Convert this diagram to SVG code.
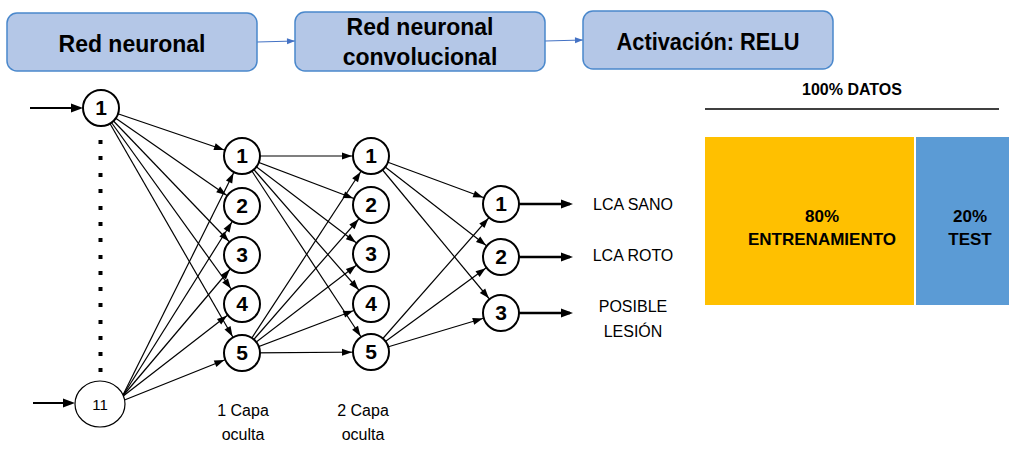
<svg xmlns="http://www.w3.org/2000/svg" width="1027" height="449" viewBox="0 0 1027 449">
<style>
.box{fill:#B4C7E7;stroke:#4A88CC;stroke-width:1.5}
.bt{font-family:"Liberation Sans",Arial,sans-serif;font-weight:bold;font-size:23px;fill:#000;text-anchor:middle}
.n{fill:#fff;stroke:#000;stroke-width:2}
.nt{font-family:"Liberation Sans",Arial,sans-serif;font-weight:bold;font-size:21px;fill:#000;text-anchor:middle}
.lbl{font-family:"Liberation Sans",Arial,sans-serif;font-size:16px;fill:#000;text-anchor:middle}
.c{stroke:#000;stroke-width:1.2;fill:none;marker-end:url(#ah)}
.ct{stroke:#000;stroke-width:2.5;fill:none;marker-end:url(#ahb)}
.ci{stroke:#000;stroke-width:2;fill:none;marker-end:url(#ahb)}
.cb{stroke:#4472C4;stroke-width:1.2;fill:none;marker-end:url(#ahs)}
.dt{font-family:"Liberation Sans",Arial,sans-serif;font-weight:bold;font-size:17px;fill:#000;text-anchor:middle}
</style>
<defs>
<marker id="ah" viewBox="0 0 10 7" refX="29" refY="3.5" markerWidth="10" markerHeight="7" orient="auto" markerUnits="userSpaceOnUse" overflow="visible"><path d="M0,0 L10,3.5 L0,7 z" fill="#000"/></marker>
<marker id="ahb" viewBox="0 0 12 9" refX="9" refY="4.5" markerWidth="12" markerHeight="9" orient="auto" markerUnits="userSpaceOnUse" overflow="visible"><path d="M0,0 L12,4.5 L0,9 z" fill="#000"/></marker>
<marker id="ahs" viewBox="0 0 8 6" refX="8" refY="3" markerWidth="8" markerHeight="6" orient="auto" markerUnits="userSpaceOnUse" overflow="visible"><path d="M0,0 L8,3 L0,6 z" fill="#4472C4"/></marker>
</defs>
<rect width="1027" height="449" fill="#fff"/>

<g id="connectors">
<line class="cb" x1="257" y1="42" x2="295" y2="41"/>
<line class="cb" x1="545" y1="41" x2="583" y2="40"/>
<line class="ci" x1="30" y1="108" x2="80" y2="108"/>
<line class="ci" x1="33" y1="403" x2="72" y2="403"/>
<line class="c" x1="101" y1="108" x2="242" y2="156"/>
<line class="c" x1="101" y1="108" x2="242" y2="206"/>
<line class="c" x1="101" y1="108" x2="242" y2="255"/>
<line class="c" x1="101" y1="108" x2="242" y2="304"/>
<line class="c" x1="101" y1="108" x2="242" y2="353"/>
<line class="c" x1="122" y1="397" x2="242" y2="156"/>
<line class="c" x1="122" y1="397" x2="242" y2="206"/>
<line class="c" x1="122" y1="397" x2="242" y2="255"/>
<line class="c" x1="122" y1="397" x2="242" y2="304"/>
<line class="c" x1="122" y1="401" x2="242" y2="353"/>
<line class="c" x1="242" y1="156" x2="371" y2="156"/>
<line class="c" x1="242" y1="156" x2="371" y2="205"/>
<line class="c" x1="242" y1="156" x2="371" y2="254"/>
<line class="c" x1="242" y1="156" x2="371" y2="304"/>
<line class="c" x1="242" y1="156" x2="371" y2="352"/>
<line class="c" x1="242" y1="353" x2="371" y2="156"/>
<line class="c" x1="242" y1="353" x2="371" y2="205"/>
<line class="c" x1="242" y1="353" x2="371" y2="254"/>
<line class="c" x1="242" y1="353" x2="371" y2="304"/>
<line class="c" x1="242" y1="353" x2="371" y2="352"/>
<line class="c" x1="371" y1="156" x2="501" y2="204"/>
<line class="c" x1="371" y1="156" x2="501" y2="257"/>
<line class="c" x1="371" y1="156" x2="501" y2="313"/>
<line class="c" x1="371" y1="352" x2="501" y2="204"/>
<line class="c" x1="371" y1="352" x2="501" y2="257"/>
<line class="c" x1="371" y1="352" x2="501" y2="313"/>
<line class="ct" x1="519" y1="204" x2="570" y2="204"/>
<line class="ct" x1="519" y1="257" x2="570" y2="257"/>
<line class="ct" x1="519" y1="313" x2="570" y2="313"/>
</g>

<g id="box-red-neuronal"><rect class="box" x="7" y="13" width="250" height="58" rx="10"/><text class="bt" x="132" y="52">Red neuronal</text></g>
<g id="box-convolucional"><rect class="box" x="295" y="12" width="250" height="59" rx="10"/><text class="bt" x="420" y="35">Red neuronal</text><text class="bt" x="420" y="65">convolucional</text></g>
<g id="box-relu"><rect class="box" x="583" y="11" width="250" height="58" rx="10"/><text class="bt" x="708" y="50" textLength="183" lengthAdjust="spacingAndGlyphs">Activación: RELU</text></g>

<g id="input-dots" fill="#000">
<rect x="98.5" y="140" width="4" height="4"/><rect x="98.5" y="156" width="4" height="4"/><rect x="98.5" y="173" width="4" height="4"/><rect x="98.5" y="189" width="4" height="4"/><rect x="98.5" y="206" width="4" height="4"/><rect x="98.5" y="222" width="4" height="4"/><rect x="98.5" y="238" width="4" height="4"/><rect x="98.5" y="255" width="4" height="4"/><rect x="98.5" y="271" width="4" height="4"/><rect x="98.5" y="287" width="4" height="4"/><rect x="98.5" y="303" width="4" height="4"/><rect x="98.5" y="320" width="4" height="4"/><rect x="98.5" y="336" width="4" height="4"/><rect x="98.5" y="352" width="4" height="4"/><rect x="98.5" y="368" width="4" height="4"/>
</g>

<g id="in-1"><circle class="n" cx="101" cy="108" r="18"/><text class="nt" x="101" y="115">1</text></g>
<g id="in-11"><ellipse cx="100" cy="404" rx="25" ry="23" fill="#fff" stroke="#000" stroke-width="1.2"/><text x="100" y="410" font-family="Liberation Sans,Arial,sans-serif" font-size="15" text-anchor="middle">11</text></g>

<g id="h1-1"><circle class="n" cx="242" cy="156" r="18"/><text class="nt" x="242" y="163">1</text></g>
<g id="h1-2"><circle class="n" cx="242" cy="206" r="18"/><text class="nt" x="242" y="213">2</text></g>
<g id="h1-3"><circle class="n" cx="242" cy="255" r="18"/><text class="nt" x="242" y="262">3</text></g>
<g id="h1-4"><circle class="n" cx="242" cy="304" r="18"/><text class="nt" x="242" y="311">4</text></g>
<g id="h1-5"><circle class="n" cx="242" cy="353" r="18"/><text class="nt" x="242" y="360">5</text></g>

<g id="h2-1"><circle class="n" cx="371" cy="156" r="18"/><text class="nt" x="371" y="163">1</text></g>
<g id="h2-2"><circle class="n" cx="371" cy="205" r="18"/><text class="nt" x="371" y="212">2</text></g>
<g id="h2-3"><circle class="n" cx="371" cy="254" r="18"/><text class="nt" x="371" y="261">3</text></g>
<g id="h2-4"><circle class="n" cx="371" cy="304" r="18"/><text class="nt" x="371" y="311">4</text></g>
<g id="h2-5"><circle class="n" cx="371" cy="352" r="18"/><text class="nt" x="371" y="359">5</text></g>

<g id="out-1"><circle class="n" cx="501" cy="204" r="18"/><text class="nt" x="501" y="211">1</text></g>
<g id="out-2"><circle class="n" cx="501" cy="257" r="18"/><text class="nt" x="501" y="264">2</text></g>
<g id="out-3"><circle class="n" cx="501" cy="313" r="18"/><text class="nt" x="501" y="320">3</text></g>

<g id="labels">
<text class="lbl" x="633" y="210">LCA SANO</text>
<text class="lbl" x="633" y="261">LCA ROTO</text>
<text class="lbl" x="633" y="312">POSIBLE</text>
<text class="lbl" x="633" y="337">LESIÓN</text>
<text class="lbl" x="243" y="416">1 Capa</text>
<text class="lbl" x="243" y="440">oculta</text>
<text class="lbl" x="363" y="416">2 Capa</text>
<text class="lbl" x="363" y="440">oculta</text>
</g>

<g id="datos">
<text x="852" y="95" font-family="Liberation Sans,Arial,sans-serif" font-weight="bold" font-size="16" text-anchor="middle">100% DATOS</text>
<line x1="705" y1="109" x2="999" y2="109" stroke="#000" stroke-width="1.5"/>
</g>
<g id="entrenamiento"><rect x="705" y="137" width="209" height="168" fill="#FFC000"/><text class="dt" x="822" y="222">80%</text><text class="dt" x="822" y="245">ENTRENAMIENTO</text></g>
<g id="test"><rect x="916" y="137" width="93" height="168" fill="#5B9BD5"/><text class="dt" x="970" y="222">20%</text><text class="dt" x="970" y="245">TEST</text></g>
</svg>
